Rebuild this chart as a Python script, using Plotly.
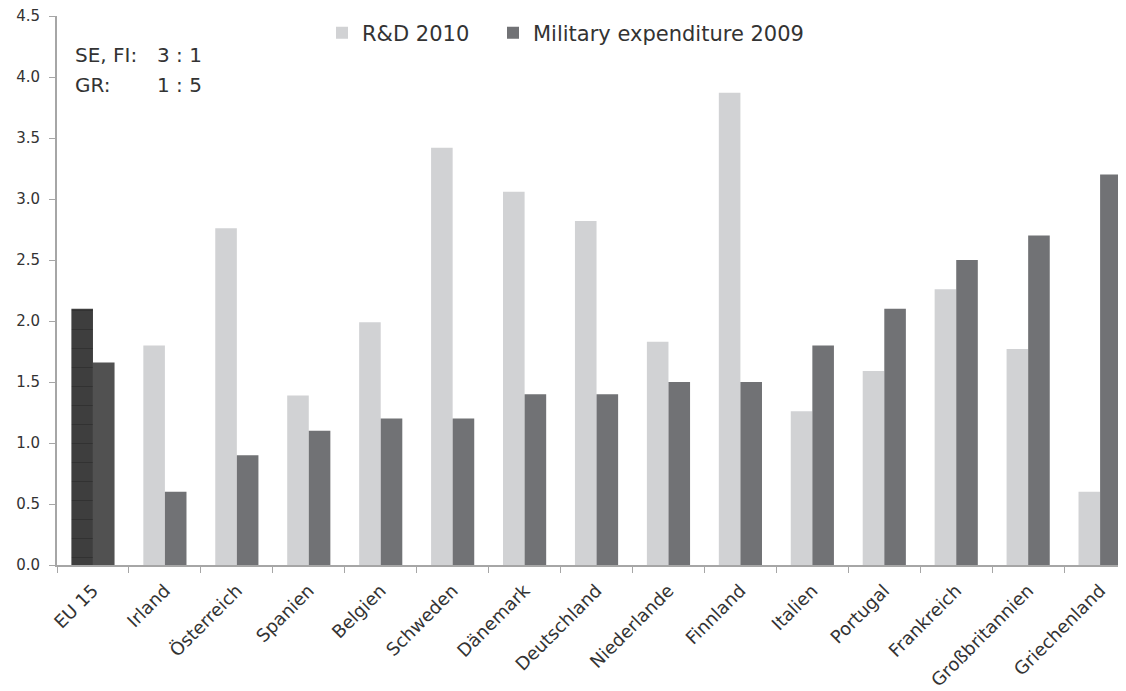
import plotly.graph_objects as go

countries = ["EU 15", "Irland", "Österreich", "Spanien", "Belgien", "Schweden", "Dänemark",
             "Deutschland", "Niederlande", "Finnland", "Italien", "Portugal", "Frankreich",
             "Großbritannien", "Griechenland"]
rd_2010 = [2.10, 1.80, 2.76, 1.39, 1.99, 3.42, 3.06, 2.82, 1.83, 3.87, 1.26, 1.59, 2.26, 1.77, 0.60]
mil_2009 = [1.66, 0.60, 0.90, 1.10, 1.20, 1.20, 1.40, 1.40, 1.50, 1.50, 1.80, 2.10, 2.50, 2.70, 3.20]
y_ticks = [0.0, 0.5, 1.0, 1.5, 2.0, 2.5, 3.0, 3.5, 4.0, 4.5]

FONT = "DejaVu Sans"
TXT = "#333333"
AXC = "#a6a6a6"

# the page body has an 8px margin: the figure is sized to fit the window
OFF = 8
W, H = 1126 - OFF, 691 - OFF
L, T, R, B = 57 - OFF, 16 - OFF, 0, 691 - 565
PW, PH = W - L - R, H - T - B

fig = go.Figure()
# EU aggregate (darker bars)
fig.add_trace(go.Bar(x=countries[:1], y=rd_2010[:1], offsetgroup="rd", showlegend=False,
                     marker=dict(color="#3e3e3e", line=dict(width=0),
                                 pattern=dict(shape="-", fgcolor="#262626", size=19, solidity=0.06))))
fig.add_trace(go.Bar(x=countries[:1], y=mil_2009[:1], offsetgroup="mil", showlegend=False,
                     marker=dict(color="#515151", line=dict(width=0))))
# Countries
fig.add_trace(go.Bar(x=countries[1:], y=rd_2010[1:], offsetgroup="rd", name="R&D 2010",
                     legend="legend", marker=dict(color="#d1d2d4", line=dict(width=0))))
fig.add_trace(go.Bar(x=countries[1:], y=mil_2009[1:], offsetgroup="mil", name="Military expenditure 2009",
                     legend="legend2", marker=dict(color="#717275", line=dict(width=0))))

def px_x(p):
    return (p - 57) / PW

def px_y(p):
    return (565 - p) / PH

leg_common = dict(orientation="h", y=1.006, xanchor="left", yanchor="top",
                  font=dict(size=21, color=TXT), bgcolor="rgba(0,0,0,0)", itemwidth=30)

fig.update_layout(
    width=W, height=H,
    margin=dict(l=L, r=R, t=T, b=B, autoexpand=False),
    paper_bgcolor="white", plot_bgcolor="white",
    barmode="group", bargap=0.4, bargroupgap=0,
    font=dict(family=FONT, color=TXT, size=16),
    legend=dict(x=px_x(322), **leg_common),
    legend2=dict(x=px_x(493), **leg_common),
    xaxis=dict(categoryorder="array", categoryarray=countries, range=[-0.5, 14.36],
               showline=True, linecolor=AXC, linewidth=2, ticks="outside", tickson="boundaries",
               tickcolor=AXC, ticklen=6, tickwidth=1, tickangle=-45, showgrid=False,
               automargin=False, ticklabelstandoff=6, ticklabeloverflow="allow",
               tickfont=dict(size=18, color=TXT)),
    yaxis=dict(range=[0, 4.5], tickvals=y_ticks, tickformat=".1f", showline=True, linecolor=AXC,
               linewidth=2, ticks="outside", tickcolor=AXC, ticklen=6, showgrid=False, zeroline=False,
               automargin=False, ticklabelstandoff=6, ticklabeloverflow="allow",
               tickfont=dict(size=15, color=TXT)),
)

for txt, xp, yp in [("SE, FI:", 73, 55), ("3 : 1", 155, 55), ("GR:", 73, 85), ("1 : 5", 155, 85)]:
    fig.add_annotation(xref="paper", yref="paper", x=px_x(xp), y=px_y(yp), text=txt,
                       showarrow=False, xanchor="left", yanchor="middle",
                       font=dict(size=20, color=TXT))

fig.write_html("out.html")
